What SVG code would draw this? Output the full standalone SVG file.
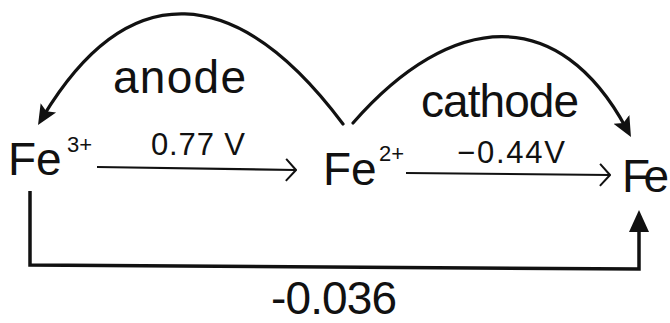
<svg xmlns="http://www.w3.org/2000/svg" width="670" height="323" viewBox="0 0 670 323">
<style>
text{font-family:"Liberation Sans",Arial,sans-serif;fill:#111}
.big{font-size:46px}
.sup{font-size:22px}
.lbl{font-size:46px}
.val{font-size:31px}
.curve{fill:none;stroke:#111;stroke-width:3.2;stroke-linecap:round}
.thin{fill:none;stroke:#111;stroke-width:2.2}
.brk{fill:none;stroke:#111;stroke-width:3.5;stroke-linejoin:miter}
</style>
<defs>
<marker id="head" markerUnits="userSpaceOnUse" viewBox="0 0 20 20" refX="10" refY="10" markerWidth="20" markerHeight="20" orient="auto">
<path d="M0,1 L20,10 L0,19 L4,10 z" fill="#111"/>
</marker>
<marker id="chev" markerUnits="userSpaceOnUse" viewBox="0 0 12 24" refX="11" refY="12" markerWidth="12" markerHeight="24" orient="auto">
<path d="M1,1 L11,12 L1,23" fill="none" stroke="#111" stroke-width="2"/>
</marker>
<marker id="tri" markerUnits="userSpaceOnUse" viewBox="0 0 22 20" refX="10" refY="10" markerWidth="22" markerHeight="20" orient="auto">
<path d="M0,0 L22,10 L0,20 z" fill="#111"/>
</marker>
</defs>
<rect width="670" height="323" fill="#fff"/>
<g id="connectors">
<path class="curve" d="M343,124 C236,-19 128,-24 43.2,116.4" marker-end="url(#head)"/>
<path class="curve" d="M353,123 C452,10 559,4 626.2,128.2" marker-end="url(#head)"/>
<path class="thin" d="M97,167 L296,170" marker-end="url(#chev)"/>
<path class="thin" d="M406,173 L610,175" marker-end="url(#chev)"/>
<path class="brk" d="M30,191 L30,265 L639,269 L639,222" marker-end="url(#tri)"/>
</g>
<g id="fe3">
<text class="big" x="8" y="175">Fe</text>
<text class="sup" x="67" y="152">3+</text>
</g>
<g id="fe2">
<text class="big" x="323" y="185">Fe</text>
<text class="sup" x="379" y="161">2+</text>
</g>
<g id="fe">
<text class="big" x="622" y="192" textLength="47">Fe</text>
</g>
<g id="labels">
<text class="lbl" x="113" y="93" textLength="133">anode</text>
<text class="lbl" x="421" y="117" textLength="158">cathode</text>
<text class="val" x="151" y="155" textLength="94">0.77 V</text>
<text class="val" x="457" y="163" textLength="108">−0.44V</text>
<text class="lbl" x="271" y="314" font-size="43" textLength="126">-0.036</text>
</g>
</svg>
